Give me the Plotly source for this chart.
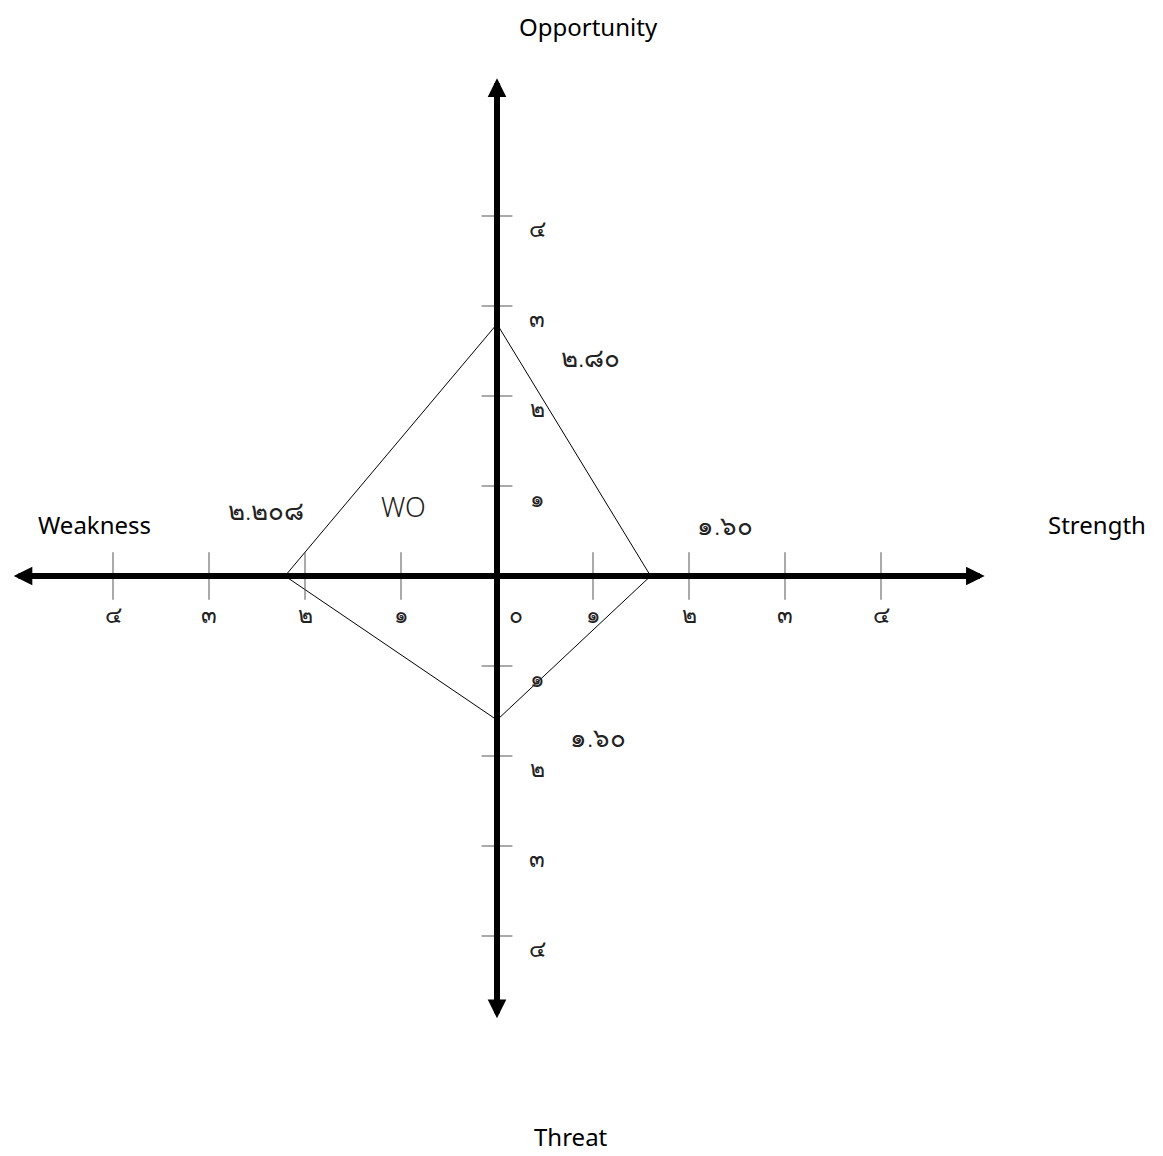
import plotly.graph_objects as go

# SWOT position chart (WO strategy)
axis_ticks = [1, 2, 3, 4]
tick_labels = ["๑", "๒", "๓", "๔"]
zero_label = "๐"

# polygon vertices: Opportunity, Strength, Threat, Weakness
vertex_names = ["O", "S", "T", "W"]
vertex_x = [0, 1.60, 0, -2.208]
vertex_y = [2.80, 0, -1.60, 0]
vertex_labels = ["๒.๘๐", "๑.๖๐", "๑.๖๐", "๒.๒๐๘"]

strategy = "WO"

FONT = "Noto Sans, DejaVu Sans, sans-serif"
TICK_COLOR = "#555555"

# page body adds an 8px offset, so the figure is a bit smaller than the window
W, H = 1155, 1148
X0, Y0 = 489, 568   # pixel position of the origin inside the figure
SX, SY = 96, 90     # pixels per unit

fig = go.Figure()

# diamond connecting the four scores
fig.add_trace(
    go.Scatter(
        x=vertex_x + [vertex_x[0]],
        y=vertex_y + [vertex_y[0]],
        mode="lines",
        line=dict(color="black", width=1),
        hoverinfo="skip",
        showlegend=False,
    )
)

# tick marks on the horizontal axis
hx = [-v for v in axis_ticks] + axis_ticks
fig.add_trace(
    go.Scatter(
        x=hx,
        y=[0] * len(hx),
        mode="markers",
        marker=dict(symbol="line-ns-open", size=34, color=TICK_COLOR,
                    line=dict(color=TICK_COLOR, width=1)),
        hoverinfo="skip",
        showlegend=False,
    )
)

# tick marks on the vertical axis
vy = axis_ticks + [-v for v in axis_ticks]
fig.add_trace(
    go.Scatter(
        x=[0] * len(vy),
        y=vy,
        mode="markers",
        marker=dict(symbol="line-ew-open", size=22, color=TICK_COLOR,
                    line=dict(color=TICK_COLOR, width=1)),
        hoverinfo="skip",
        showlegend=False,
    )
)

# main axes with arrowheads at both ends
fig.add_annotation(
    x=5.08, y=0, ax=-5.05, ay=0, xref="x", yref="y", axref="x", ayref="y",
    text="", showarrow=True, arrowhead=2, arrowside="end+start",
    arrowwidth=6, arrowsize=0.62, arrowcolor="black",
)
fig.add_annotation(
    x=0, y=5.53, ax=0, ay=-4.93, xref="x", yref="y", axref="x", ayref="y",
    text="", showarrow=True, arrowhead=2, arrowside="end+start",
    arrowwidth=6, arrowsize=0.62, arrowcolor="black",
)

tick_font = dict(family=FONT, size=23, color="#222222", weight=300)

# horizontal tick labels (below axis)
for v, lab in zip(axis_ticks, tick_labels):
    for sgn in (-1, 1):
        fig.add_annotation(x=sgn * v, y=0, text=lab, showarrow=False,
                           yshift=-38, font=tick_font)
fig.add_annotation(x=0, y=0, text=zero_label, showarrow=False,
                   xshift=19, yshift=-38, font=tick_font)

# vertical tick labels (right of axis)
for v, lab in zip(axis_ticks, tick_labels):
    for sgn in (-1, 1):
        fig.add_annotation(x=0, y=sgn * v, text=lab, showarrow=False,
                           xshift=40, yshift=-12, font=tick_font)

# score labels
label_pos = {"O": (0.97, 2.43), "S": (2.37, 0.57), "T": (1.05, -1.79), "W": (-2.41, 0.73)}
for name, lab in zip(vertex_names, vertex_labels):
    lx, ly = label_pos[name]
    fig.add_annotation(x=lx, y=ly, text=lab, showarrow=False,
                       font=dict(family=FONT, size=26, color="#222222", weight=300))

fig.add_annotation(x=-0.97, y=0.77, text=strategy, showarrow=False,
                   font=dict(family=FONT, size=27, color="#222222", weight=300))

# side titles
side_font = dict(family=FONT, size=24, color="black")
fig.add_annotation(x=-4.19, y=0.57, text="Weakness", showarrow=False, font=side_font)
fig.add_annotation(x=6.25, y=0.57, text="Strength", showarrow=False, font=side_font)
fig.add_annotation(x=0.95, y=6.11, text="Opportunity", showarrow=False, font=side_font)
fig.add_annotation(x=0.77, y=-6.23, text="Threat", showarrow=False, font=side_font)

fig.update_xaxes(visible=False, range=[-X0 / SX, (W - X0) / SX], fixedrange=True)
fig.update_yaxes(visible=False, range=[-(H - Y0) / SY, Y0 / SY], fixedrange=True)

fig.update_layout(
    width=W,
    height=H,
    margin=dict(l=0, r=0, t=0, b=0),
    plot_bgcolor="white",
    paper_bgcolor="white",
    font=dict(family=FONT),
)

fig.write_html("out.html")
